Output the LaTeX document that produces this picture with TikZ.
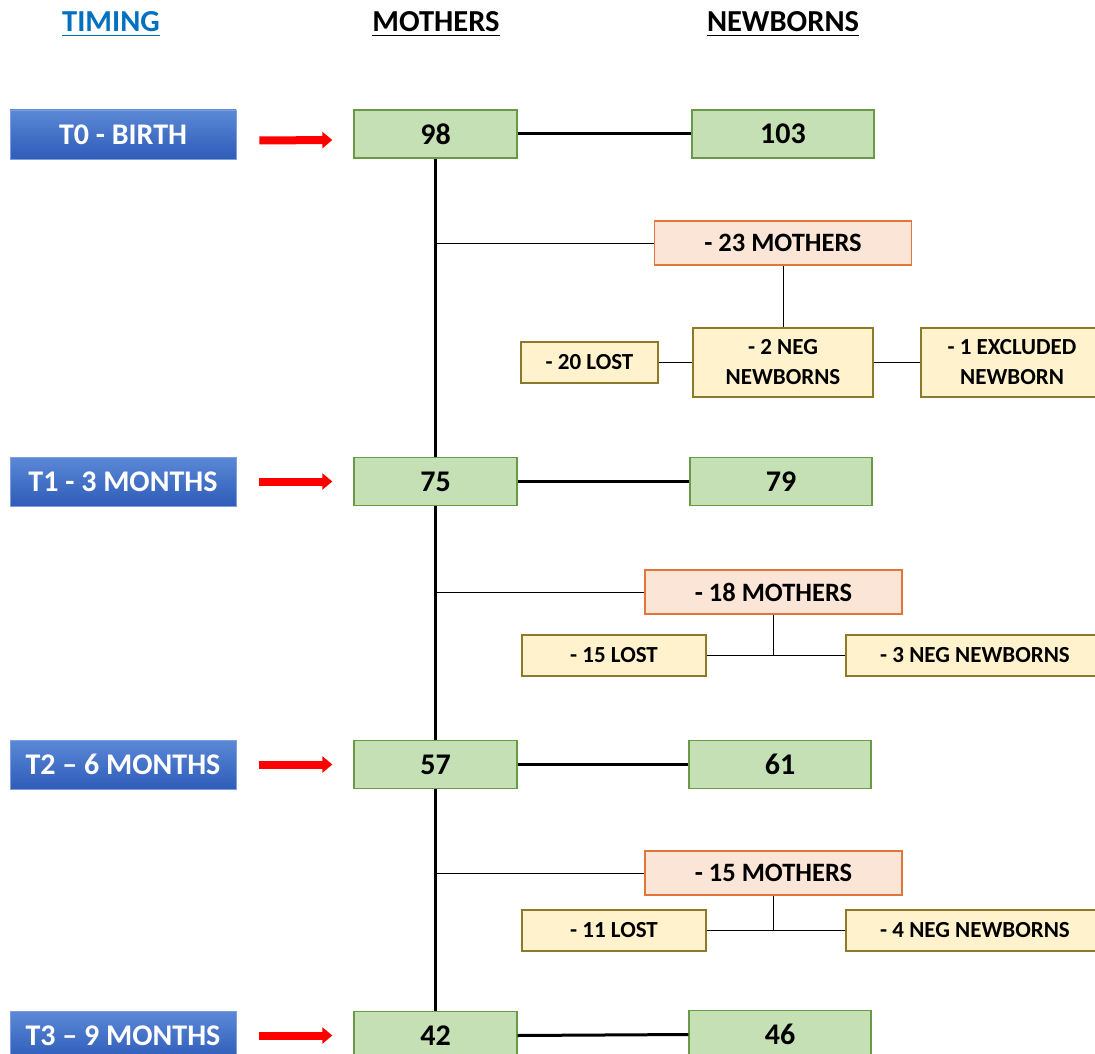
\documentclass[tikz,border=0pt]{standalone}
\usepackage{fontspec}
\setmainfont{Carlito}
\usetikzlibrary{arrows.meta}
\definecolor{hdrblue}{HTML}{0070C0}
\definecolor{gfill}{HTML}{C5E0B4}
\definecolor{gdraw}{HTML}{6A9A48}
\definecolor{pfill}{HTML}{FBE5D6}
\definecolor{pdraw}{HTML}{E0763A}
\definecolor{yfill}{HTML}{FFF2CC}
\definecolor{ydraw}{HTML}{8C7A2A}
\definecolor{btop}{HTML}{5B88D6}
\definecolor{bbot}{HTML}{2E5CB8}
\definecolor{thin}{HTML}{808080}
\tikzset{
  hdr/.style={inner sep=0pt, anchor=base, font=\fontsize{30.5}{33}\selectfont\bfseries},
  tbox/.style={draw=btop!80!white, line width=0.6pt, top color=btop, bottom color=bbot, text=white,
    minimum width=226pt, minimum height=49pt, inner sep=0pt, font=\fontsize{30}{33}\selectfont\bfseries},
  gbox/.style={draw=gdraw, fill=gfill, line width=1.3pt, minimum height=48pt, inner sep=0pt,
    font=\fontsize{30}{33}\selectfont\bfseries},
  pbox/.style={draw=pdraw, fill=pfill, line width=1.3pt, minimum width=257pt, minimum height=44pt, inner sep=0pt,
    font=\fontsize{26.5}{29}\selectfont\bfseries},
  ybox/.style={draw=ydraw, fill=yfill, line width=1.3pt, inner sep=0pt, align=center,
    font=\fontsize{23}{30}\selectfont\bfseries},
  thick line/.style={line width=3pt, black},
  thin line/.style={line width=1.2pt, thin},
  redarrow/.style={line width=8pt, red, -{Triangle[length=10pt,width=16pt]}},
}
\begin{document}
\begin{tikzpicture}[x=1pt,y=-1pt]
\clip (0,0) rectangle (1095,1054);
\fill[white] (0,0) rectangle (1095,1054);

% headers
\node[hdr, text=hdrblue] (h1) at (111,32) {TIMING};
\node[hdr] (h2) at (436,32) {MOTHERS};
\node[hdr] (h3) at (783,32) {NEWBORNS};
\draw[hdrblue, line width=1.8pt] ([yshift=-3.5pt]h1.base west) -- ([yshift=-3.5pt]h1.base east);
\draw[black, line width=1.8pt] ([yshift=-3.5pt]h2.base west) -- ([yshift=-3.5pt]h2.base east);
\draw[black, line width=1.8pt] ([yshift=-3.5pt]h3.base west) -- ([yshift=-3.5pt]h3.base east);

% timing boxes
\node[tbox] (t0) at (123,134.5) {T0 - BIRTH};
\node[tbox] (t1) at (123,481.5) {T1 - 3 MONTHS};
\node[tbox] (t2) at (123,764.5) {T2 – 6 MONTHS};
\node[tbox] (t3) at (123,1035.5) {T3 – 9 MONTHS};

% mothers boxes
\node[gbox, minimum width=163pt] (m0) at (435.5,134) {98};
\node[gbox, minimum width=163pt] (m1) at (435.5,481.5) {75};
\node[gbox, minimum width=163pt] (m2) at (435.5,764.5) {57};
\node[gbox, minimum width=163pt] (m3) at (435.5,1035.5) {42};

% newborn boxes
\node[gbox, minimum width=182pt] (n0b) at (783,134) {103};
\node[gbox, minimum width=182pt] (n1b) at (781,481.5) {79};
\node[gbox, minimum width=182pt] (n2b) at (780,764.5) {61};
\node[gbox, minimum width=182pt] (n3b) at (780,1034.5) {46};

% red arrows
\draw[redarrow] ([xshift=23pt,yshift=-6pt]t0.east) -- ([xshift=-21pt,yshift=-6pt]m0.west);
\draw[redarrow] ([xshift=23pt]t1.east) -- ([xshift=-21pt]m1.west);
\draw[redarrow] ([xshift=23pt]t2.east) -- ([xshift=-21pt]m2.west);
\draw[redarrow] ([xshift=23pt]t3.east) -- ([xshift=-21pt]m3.west);

% main vertical line
\draw[thick line] (m0.south) -- (m1.north);
\draw[thick line] (m1.south) -- (m2.north);
\draw[thick line] (m2.south) -- (m3.north);

% horizontal mother-newborn lines
\draw[thick line] (m0.east) -- (n0b.west);
\draw[thick line] (m1.east) -- (n1b.west);
\draw[thick line] (m2.east) -- (n2b.west);
\draw[thick line] (m3.east) -- (n3b.west);

% drop-out group 1
\node[pbox] (d0) at (783,243) {- 23 MOTHERS};
\node[ybox, minimum width=180pt, minimum height=69pt] (e0) at (783,362.5) {- 2 NEG\\NEWBORNS};
\node[ybox, minimum width=137pt, minimum height=41pt] (l0) at (589.5,362.5) {- 20 LOST};
\node[ybox, minimum width=182pt, minimum height=69pt] (x0) at (1012,362.5) {- 1 EXCLUDED\\NEWBORN};
\draw[thin line] (d0.west -| m0.south) -- (d0.west);
\draw[thin line] (d0.south) -- (e0.north);
\draw[thin line] (l0.east) -- (e0.west);
\draw[thin line] (e0.east) -- (x0.west);

% drop-out group 2
\node[pbox] (d1) at (773.5,592) {- 18 MOTHERS};
\node[ybox, minimum width=184pt, minimum height=41pt] (l1) at (614,655.5) {- 15 LOST};
\node[ybox, minimum width=258pt, minimum height=41pt] (e1) at (975,655.5) {- 3 NEG NEWBORNS};
\draw[thin line] (d1.west -| m1.south) -- (d1.west);
\draw[thin line] (d1.south) -- (d1.south |- l1.east);
\draw[thin line] (l1.east) -- (e1.west);

% drop-out group 3
\node[pbox] (d2) at (773.5,873) {- 15 MOTHERS};
\node[ybox, minimum width=184pt, minimum height=41pt] (l2) at (614,930.5) {- 11 LOST};
\node[ybox, minimum width=258pt, minimum height=41pt] (e2) at (975,930.5) {- 4 NEG NEWBORNS};
\draw[thin line] (d2.west -| m2.south) -- (d2.west);
\draw[thin line] (d2.south) -- (d2.south |- l2.east);
\draw[thin line] (l2.east) -- (e2.west);
\end{tikzpicture}
\end{document}
